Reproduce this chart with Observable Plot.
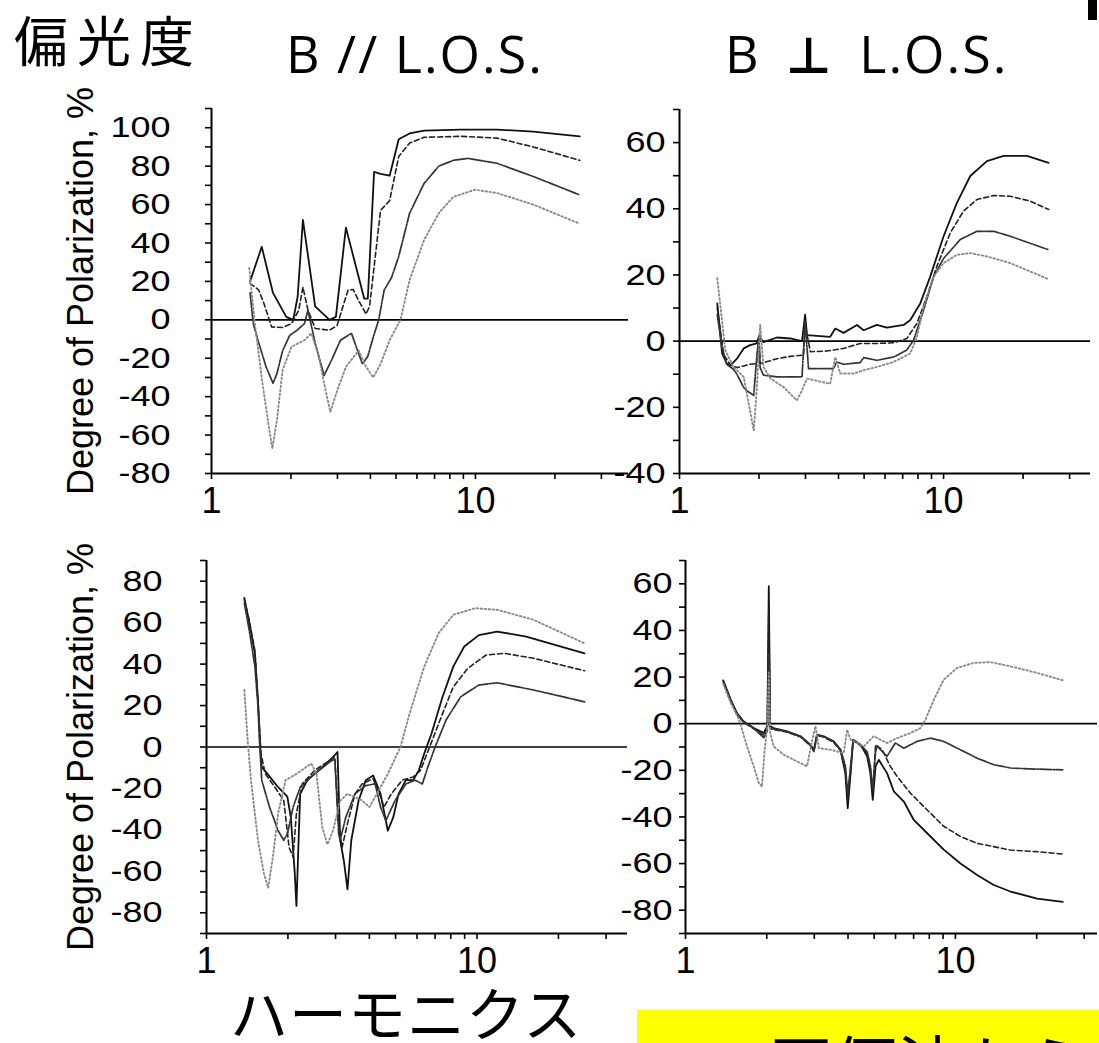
<!DOCTYPE html>
<html><head><meta charset="utf-8">
<script src="https://cdn.jsdelivr.net/npm/d3@7"></script>
<script src="https://cdn.jsdelivr.net/npm/@observablehq/plot@0.6"></script>
<style>
html,body{margin:0;padding:0;background:#fff}
body{width:1099px;height:1043px;overflow:hidden;position:relative;font-family:"Liberation Sans",Arial,sans-serif}
.abs{position:absolute;line-height:1;white-space:nowrap}
.jp{font-family:"Noto Sans CJK JP","Noto Sans CJK SC",sans-serif;color:#000}
.los{font-family:"Open Sans","DejaVu Sans",sans-serif;color:#000;font-size:52px;letter-spacing:2px}
.panel{position:absolute}
</style></head><body>
<div class="abs jp" style="left:14px;top:12px;font-size:54px;letter-spacing:9px">偏光度</div>
<div class="abs los" style="left:286px;top:27px">B // L.O.S.</div>
<div class="abs los" style="left:725px;top:27px;word-spacing:10px">B <span style="font-family:'DejaVu Sans',sans-serif;font-weight:700;font-size:50px">⊥</span> L.O.S.</div>
<div class="abs" style="left:1088px;top:0;width:9px;height:20px;background:#000"></div>
<div class="abs jp" style="left:230px;top:982px;font-size:58px;letter-spacing:1px">ハーモニクス</div>
<div class="abs" style="left:637px;top:1010px;width:462px;height:33px;background:#ffff00;overflow:hidden">
  <div class="abs jp" style="left:68px;top:19px;font-size:64px">→円偏波から</div>
</div>
<div id="tl" class="panel" style="left:0;top:60px"></div>
<div id="tr" class="panel" style="left:600px;top:60px"></div>
<div id="bl" class="panel" style="left:0;top:520px"></div>
<div id="br" class="panel" style="left:600px;top:520px"></div>
<script>
// ---- data: [harmonic number, degree of polarization %] ----
// top-left: B // L.O.S., upper row
const tlSolid = [[1.40,20],[1.55,38],[1.71,14],[1.92,1.5],[2.04,0],[2.12,12],[2.22,52],[2.47,7],[2.80,0],[2.96,1.5],[3.23,48],[3.79,11],[3.91,11],[4.13,77],[4.37,76],[4.73,75],[5.12,94],[5.63,97],[6.39,98.5],[8.78,99],[12.06,99],[16.56,98],[24.85,95.5]];
const tlDashed = [[1.40,19],[1.51,15.5],[1.58,8.5],[1.69,-3.7],[1.86,-4],[2.01,-2],[2.14,5],[2.22,17],[2.32,5],[2.47,-4.5],[2.80,-5.4],[2.99,-3],[3.29,15.5],[3.44,15.8],[3.61,10],[3.85,3],[3.97,7],[4.37,57],[4.73,62],[5.12,85],[5.63,92],[6.39,95],[8.78,95.5],[12.06,94.6],[16.56,90],[24.85,83]];
const tlDashDot = [[1.40,14],[1.44,-2],[1.51,-12],[1.61,-24.5],[1.71,-33],[1.77,-28],[1.86,-16],[1.98,-8],[2.11,-5.4],[2.25,-2],[2.32,5],[2.47,-12],[2.67,-29],[2.85,-21],[3.08,-10.6],[3.39,-7],[3.73,-23],[3.91,-19],[4.10,-9],[4.30,0],[4.51,15.5],[4.81,22],[5.12,33],[5.63,55.5],[6.39,71],[7.26,80],[8.24,83],[9.36,84],[12.06,81.5],[16.56,74.6],[24.85,65]];
const tlDotted = [[1.39,27],[1.42,14],[1.46,-2],[1.56,-33],[1.65,-56],[1.70,-67],[1.77,-52],[1.86,-26],[2.01,-14],[2.25,-10.6],[2.39,-7],[2.55,-19],[2.67,-33],[2.82,-48],[2.99,-37],[3.23,-24.5],[3.61,-16],[3.85,-24.5],[4.10,-30],[4.37,-23],[4.73,-10.6],[5.20,0],[5.63,20.7],[6.39,41.6],[7.26,55.5],[8.24,64],[9.97,67.7],[12.06,66],[16.56,60],[24.85,50]];
// top-right: B ⊥ L.O.S., upper row
const trSolid = [[1.39,11.4],[1.45,-3.7],[1.51,-6.8],[1.56,-7.3],[1.65,-5.3],[1.75,-2.2],[1.85,-1.2],[1.96,-0.7],[2.00,1.5],[2.08,-0.3],[2.34,1.1],[2.63,0.8],[2.91,0],[2.99,8],[3.04,1.8],[3.72,1.3],[3.89,3.8],[4.18,2.5],[4.70,4.9],[4.98,3.3],[5.59,4.9],[6.10,4.1],[7.06,4.9],[7.48,6.4],[8.16,11.4],[8.90,19.5],[10,31.7],[11.23,41.8],[12.62,49.9],[14.59,54.4],[16.88,56],[20.69,56],[24.99,53.9]];
const trDashed = [[1.39,10],[1.47,-4],[1.56,-7.3],[1.65,-8],[1.75,-7.5],[1.85,-7],[1.96,-6.8],[2.00,1],[2.02,-6.8],[2.34,-5.3],[2.63,-4.6],[2.95,-4.2],[2.99,5],[3.13,-3.2],[3.61,-3],[4.18,-2.2],[4.83,-0.7],[5.59,-0.7],[6.47,-0.5],[7.26,0.8],[7.93,5.4],[8.65,13.5],[9.43,22.6],[10.6,32.7],[11.9,39.3],[13.37,42.8],[15.47,44],[17.88,43.8],[21.3,42.3],[24.99,39.8]];
const trDashDot = [[1.39,8],[1.45,-2],[1.51,-7],[1.60,-8.5],[1.65,-10],[1.75,-14],[1.80,-15],[1.91,-16.4],[1.96,-5],[2.00,1.5],[2.02,-8],[2.08,-10.3],[2.34,-10.8],[2.91,-10.8],[2.99,6],[3.08,-8.3],[3.83,-8.3],[3.94,-6.3],[4.18,-7],[4.83,-6.5],[4.98,-5],[5.59,-5.8],[6.47,-4.8],[7.26,-2.7],[7.70,0.3],[8.40,9.4],[9.17,19.5],[10,25],[11.56,30.7],[13.37,33.2],[15.47,33.2],[17.88,31.7],[24.99,27.6]];
const trDotted = [[1.39,19],[1.43,10.4],[1.49,-2.7],[1.60,-7.8],[1.75,-10.8],[1.85,-21],[1.91,-27],[1.96,-15],[2.02,4.9],[2.08,-7.8],[2.21,-11.3],[2.48,-13.9],[2.78,-17.9],[2.91,-14.9],[3.04,-11.3],[3.31,-12],[3.72,-12.9],[3.89,-4.8],[4.06,-9.8],[4.56,-9.8],[4.98,-8.8],[5.59,-7.8],[6.47,-6.3],[7.48,-3.7],[7.93,1.3],[8.40,10.4],[9.17,19.5],[10,23.6],[11.23,26.1],[12.62,26.6],[14.59,25.6],[17.88,23.6],[24.99,18.7]];
// bottom-left: B // L.O.S., lower row
const blSolid = [[1.38,71.9],[1.44,59.8],[1.51,45],[1.55,22.6],[1.58,0],[1.60,-9.7],[1.68,-13],[1.84,-19.4],[1.99,-24],[2.05,-34],[2.12,-61],[2.15,-76.7],[2.19,-45],[2.22,-22.6],[2.36,-16],[2.68,-9.7],[2.94,-4.8],[3.05,-2.4],[3.12,-45],[3.22,-55],[3.32,-68.7],[3.43,-45],[3.65,-25.8],[3.88,-16],[4.13,-13.7],[4.40,-22.6],[4.68,-40.4],[4.90,-34],[5.13,-22.6],[5.46,-16],[5.81,-16],[6.09,-11.3],[6.38,-3.2],[6.79,6.5],[7.45,24],[8.17,38.8],[8.97,48.5],[10.16,54],[11.86,55.7],[15.2,53.3],[24.98,45.2]];
const blDashed = [[1.38,71],[1.44,61],[1.51,46.5],[1.57,9.7],[1.59,-3.2],[1.65,-13],[1.79,-19.4],[1.93,-25.8],[2.02,-48.5],[2.09,-53],[2.15,-32],[2.26,-17.8],[2.51,-11.3],[2.85,-6.5],[2.98,-4.8],[3.08,-37],[3.17,-48.5],[3.32,-37],[3.54,-22.6],[3.76,-17.8],[4.13,-15.3],[4.40,-24],[4.53,-29],[4.82,-22.6],[5.29,-16],[5.81,-14.5],[6.18,-11.3],[6.68,0],[7.45,16],[8.17,29],[9.25,38],[10.81,44.4],[12.62,45.2],[16.18,42.8],[24.98,36.8]];
const blDashDot = [[1.38,69.5],[1.44,56],[1.51,38.8],[1.55,19.4],[1.57,3],[1.60,-16],[1.71,-29],[1.84,-40.4],[1.93,-45],[1.99,-42],[2.09,-29],[2.22,-19.4],[2.51,-13],[2.85,-7.3],[2.98,-5.7],[3.08,-42],[3.12,-45],[3.27,-34],[3.54,-22.6],[3.88,-18.6],[4.20,-17.8],[4.40,-29],[4.60,-35.5],[4.98,-25.8],[5.46,-17.8],[5.90,-16],[6.28,-17.8],[6.58,-9.7],[7.0,0],[7.68,13],[8.70,24.2],[10.16,29.9],[11.86,31],[16.18,27.5],[24.98,21.8]];
const blDotted = [[1.38,27.5],[1.42,3],[1.46,-16],[1.55,-45],[1.63,-61],[1.69,-68],[1.76,-53],[1.84,-32],[1.96,-16],[2.15,-13],[2.44,-8],[2.55,-13],[2.68,-38.8],[2.80,-47],[2.94,-40],[3.12,-26],[3.32,-22.6],[3.76,-25.8],[4.00,-29],[4.26,-22.6],[4.68,-13],[5.21,0],[5.63,16],[6.38,38.8],[7.22,55],[8.17,63.8],[9.85,67],[11.86,66.2],[16.18,61.4],[24.98,50]];
// bottom-right: B ⊥ L.O.S., lower row
const brSolid = [[1.38,18.6],[1.47,10.3],[1.55,4.6],[1.64,1],[1.79,-1.9],[1.95,-4],[2.01,-1],[2.035,59],[2.06,-1.1],[2.12,-1.9],[2.38,-3.3],[2.67,-5.4],[2.90,-9],[2.99,-11.2],[3.07,-4.7],[3.25,-5.4],[3.54,-7.6],[3.75,-11.2],[3.91,-21.2],[3.99,-36.2],[4.09,-21.2],[4.18,-6.9],[4.45,-9],[4.71,-14],[4.84,-21.2],[4.94,-32.7],[5.06,-18.3],[5.20,-15.5],[5.58,-21.2],[5.91,-29],[6.44,-33.4],[7.01,-41.3],[7.86,-47],[9.05,-54],[10.44,-60],[12.03,-64.9],[13.87,-69.2],[15.98,-72],[20.07,-75],[24.98,-76.4]];
const brDashed = [[1.38,18],[1.47,10],[1.55,4.3],[1.64,0.7],[1.79,-2.2],[1.95,-5],[2.01,-2],[2.035,49],[2.06,-2],[2.12,-2.5],[2.38,-3.6],[2.67,-5.7],[2.90,-9.5],[2.99,-11.5],[3.07,-5],[3.25,-5.7],[3.54,-8],[3.75,-11.5],[3.91,-20],[3.99,-33],[4.09,-20],[4.18,-7.2],[4.45,-9.3],[4.71,-13],[4.84,-19],[4.94,-30],[5.06,-9],[5.35,-11.2],[5.74,-18.3],[6.08,-22.6],[6.81,-29.8],[7.86,-37],[9.05,-44],[10.44,-48.4],[12.03,-51.3],[15.98,-54.2],[20.07,-54.9],[24.98,-55.9]];
const brDashDot = [[1.38,18.3],[1.47,10],[1.55,4.4],[1.64,0.8],[1.79,-2],[1.95,-6],[2.01,-3],[2.035,30],[2.06,-2],[2.12,-2.2],[2.38,-3.5],[2.67,-5.5],[2.90,-9.2],[2.99,-12],[3.07,-5],[3.25,-5.5],[3.54,-7.8],[3.75,-11],[3.91,-18],[3.99,-30],[4.09,-18],[4.18,-7],[4.45,-9.2],[4.71,-12],[4.84,-18],[4.94,-28],[5.06,-12],[5.13,-9.7],[5.58,-14],[5.99,-8.3],[6.44,-10.5],[7.21,-7.6],[8.08,-6.2],[9.05,-7.6],[10.44,-11.2],[12.03,-14.8],[13.87,-17.6],[15.98,-19],[20.07,-19.5],[24.98,-19.8]];
const brDotted = [[1.38,17],[1.47,9],[1.58,1.7],[1.69,-9.7],[1.79,-18.3],[1.87,-25.5],[1.92,-27],[1.96,-12.6],[2.01,-1],[2.035,22],[2.06,-4],[2.12,-9.7],[2.31,-13.3],[2.59,-16.2],[2.82,-18.3],[2.95,-6.9],[3.03,-1.1],[3.12,-10.5],[3.44,-11.2],[3.86,-12.6],[3.97,-2.6],[4.09,-6.9],[4.58,-9.7],[4.98,-5.4],[5.58,-8.3],[6.08,-6.2],[6.81,-4],[7.42,-1.9],[7.74,1.7],[8.32,10.3],[9.05,18.9],[10.14,23.9],[11.69,26.1],[13.48,26.4],[15.98,24.6],[20.07,21.8],[24.98,18.6]];

const xTicks = [1,2,3,4,5,6,7,8,9,10,20,30];
const xLabels = [1, 10];
const yLabelText = "Degree of Polarization, %";

const lineStyles = [
  {stroke:"#111", strokeWidth:1.8, strokeDasharray:null},
  {stroke:"#222", strokeWidth:1.6, strokeDasharray:"5,3"},
  {stroke:"#333", strokeWidth:1.7, strokeDasharray:"12,1.5,1.5,1.5"},
  {stroke:"#8a8a8a", strokeWidth:1.9, strokeDasharray:"1.5,2.5"}
];

function range10(a, b){ const r=[]; for(let v=a; v<=b; v+=10) r.push(v); return r; }

function panel(el, series, cfg){
  const marks = [
    Plot.ruleY([0], {stroke:"#000", strokeWidth:1.7}),
    ...series.map((s,i)=>Plot.line(s, {x:d=>d[0], y:d=>d[1], ...Object.fromEntries(Object.entries(lineStyles[i]).filter(([k,v])=>v!=null)), strokeLinejoin:"round"})),
    Plot.ruleX([1], {stroke:"#000", strokeWidth:2}),
    Plot.ruleY([cfg.yDomain[0]], {stroke:"#000", strokeWidth:2}),
    Plot.axisY({ticks: range10(cfg.yDomain[0], cfg.yDomain[1]), tickSize:6, tickPadding:cfg.tickPad, strokeWidth:1.6,
      tickFormat: d => (d % 20 === 0 ? String(d) : ""), fontSize:30, label:null}),
    Plot.axisX({ticks: xTicks.filter(t=>t<=cfg.xMax), tickSize:6, tickPadding:8, strokeWidth:1.6,
      tickFormat: d => (xLabels.includes(d) ? String(d) : ""), fontSize:36, label:null})
  ];
  if (cfg.yLabel) marks.push(Plot.axisY({tickSize:0, tickFormat:()=> "", label:yLabelText, labelAnchor:"center", labelArrow:"none", labelOffset:cfg.labelOffset, fontSize:36}));
  const svg = Plot.plot({
    width: cfg.width, height: cfg.height,
    marginLeft: cfg.ml, marginRight: cfg.mr, marginTop: cfg.mt, marginBottom: cfg.mb,
    x: {type:"log", domain:[1, cfg.xMax]},
    y: {domain: cfg.yDomain},
    style: {fontFamily:'"Liberation Sans", Arial, sans-serif', background:"transparent", color:"#000", overflow:"visible"},
    marks
  });
  svg.querySelectorAll('g[aria-label="y-axis tick label"] text').forEach(t => {
    t.setAttribute("transform", (t.getAttribute("transform")||"") + " scale(1.2,1)");
  });
  document.getElementById(el).appendChild(svg);
}

panel("tl", [tlSolid, tlDashed, tlDashDot, tlDotted], {width:640, height:470, ml:211, mr:12, mt:48, mb:57, xMax:38, yDomain:[-80,110], tickPad:35, yLabel:true, labelOffset:144});
panel("tr", [trSolid, trDashed, trDashDot, trDotted], {width:499, height:470, ml:79, mr:9, mt:49, mb:57, xMax:36, yDomain:[-40,70], tickPad:8});
panel("bl", [blSolid, blDashed, blDashDot, blDotted], {width:640, height:470, ml:206, mr:13, mt:40, mb:57, xMax:36, yDomain:[-90,90], tickPad:38, yLabel:true, labelOffset:139});
panel("br", [brSolid, brDashed, brDashDot, brDotted], {width:499, height:470, ml:85, mr:2, mt:40, mb:57, xMax:33.6, yDomain:[-90,70], tickPad:7});
</script>
</body></html>
